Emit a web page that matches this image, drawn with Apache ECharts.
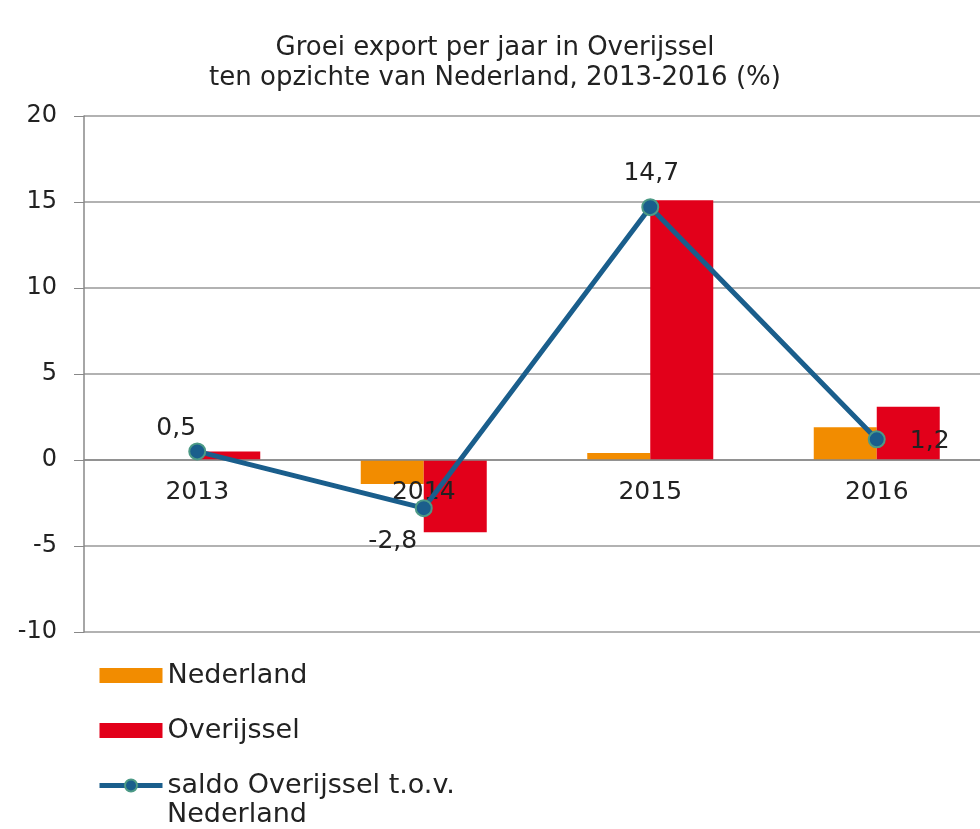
<html>
<head>
    <meta charset="utf-8">
    <script src="https://cdn.jsdelivr.net/npm/echarts@6/dist/echarts.min.js"></script>
</head>
<style>
    body {
        margin: 0;
    }

    #chart {
        width: 980px;
        height: 829px;
    }
</style>
<body>
    <div id="chart"></div>
    <script>
        const years = ['2013', '2014', '2015', '2016']
        const nederland = [0.0, -1.4, 0.4, 1.9]
        const overijssel = [0.5, -4.2, 15.1, 3.1]
        const saldo = [0.5, -2.8, 14.7, 1.2]
        // label offset from each saldo point
        const saldoLabelPos = [[-21, -23], [-31, 33], [1, -34], [53, 2]]

        const font = 'DejaVu Sans'
        const myChart = echarts.init(document.getElementById('chart'))

        const option = {
            textStyle: { fontFamily: font },
            title: {
                text: 'Groei export per jaar in Overijssel\nten opzichte van Nederland, 2013-2016 (%)',
                left: 490,
                top: 28,
                textAlign: 'center',
                textStyle: {
                    fontFamily: font,
                    fontSize: 26,
                    fontWeight: 'normal',
                    color: '#222',
                    lineHeight: 30
                }
            },
            legend: {
                orient: 'vertical',
                left: 97,
                top: 662,
                padding: 0,
                itemWidth: 63,
                itemHeight: 15,
                itemGap: 28,
                data: [
                    { name: 'Nederland', icon: 'rect' },
                    { name: 'Overijssel', icon: 'rect' },
                    { name: 'saldo Overijssel t.o.v.', lineStyle: { width: 5 } }
                ],
                textStyle: { fontFamily: font, fontSize: 27, color: '#222', padding: [0, 0, 0, 0] }
            },
            graphic: [{
                type: 'text',
                left: 167,
                top: 801,
                style: { text: 'Nederland', fontFamily: font, fontSize: 27, fill: '#222' }
            }],
            grid: {
                left: 84,
                right: -10,
                top: 116,
                bottom: 197,
                outerBoundsMode: 'none'
            },
            xAxis: {
                type: 'category',
                data: years,
                z: 3,
                axisLine: { onZero: true, lineStyle: { color: '#888', width: 1.5 } },
                axisTick: { length: 8, lineStyle: { color: '#888' } },
                axisLabel: { margin: -152, fontSize: 25, color: '#222', fontFamily: font }
            },
            yAxis: {
                type: 'value',
                min: -10,
                max: 20,
                interval: 5,
                axisLine: { show: true, lineStyle: { color: '#888', width: 1.5 } },
                axisTick: { show: true, length: 10, lineStyle: { color: '#888' } },
                axisLabel: { margin: 27, fontSize: 24, color: '#222', fontFamily: font },
                splitLine: { lineStyle: { color: '#999', width: 1.5 } }
            },
            series: [{
                name: 'Nederland',
                type: 'bar',
                data: nederland,
                barWidth: 63,
                barGap: '0%',
                itemStyle: { color: '#F28C00' }
            }, {
                name: 'Overijssel',
                type: 'bar',
                data: overijssel,
                barWidth: 63,
                barGap: '0%',
                itemStyle: { color: '#E2001A' }
            }, {
                name: 'saldo Overijssel t.o.v.',
                type: 'line',
                data: saldo.map(function (v, i) {
                    return {
                        value: v,
                        label: { offset: saldoLabelPos[i] }
                    }
                }),
                symbol: 'circle',
                symbolSize: 16,
                lineStyle: { color: '#1A5E8C', width: 5 },
                itemStyle: { color: '#1A5E8C', borderColor: '#4C9A86', borderWidth: 2 },
                label: {
                    show: true,
                    position: 'inside',
                    fontSize: 25,
                    color: '#222',
                    fontFamily: font,
                    formatter: function (p) {
                        return String(p.value).replace('.', ',')
                    }
                },
                z: 5
            }]
        }
        myChart.setOption(option)
    </script>
</body>
</html>
